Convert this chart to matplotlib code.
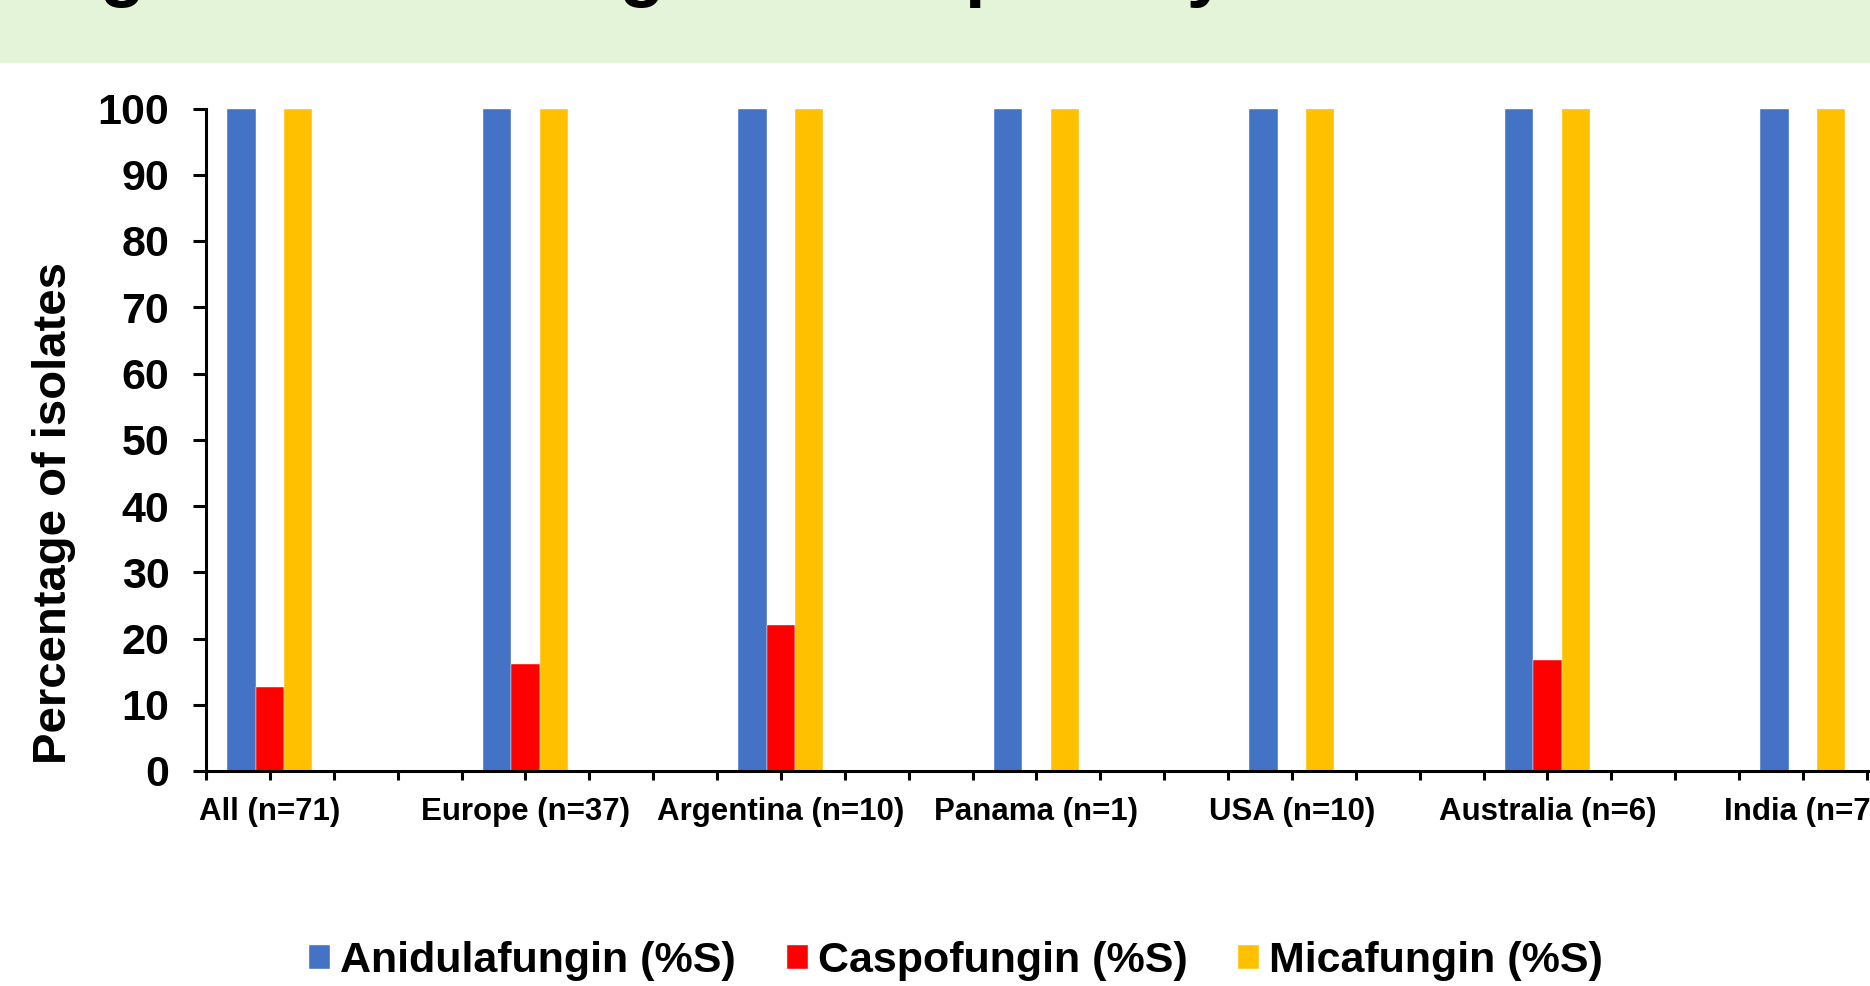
import matplotlib
matplotlib.use("Agg")
import matplotlib.pyplot as plt
from matplotlib.patches import Rectangle
import numpy as np

plt.rcParams['font.family'] = ['Liberation Sans', 'DejaVu Sans']
plt.rcParams['font.weight'] = 'bold'

categories = ["All (n=71)", "Europe (n=37)", "Argentina (n=10)", "Panama (n=1)",
              "USA (n=10)", "Australia (n=6)", "India (n=7)"]
anidulafungin = [100, 100, 100, 100, 100, 100, 100]
caspofungin = [12.7, 16.2, 22.0, 0, 0, 16.7, 0]
micafungin = [100, 100, 100, 100, 100, 100, 100]
series_names = ["Anidulafungin (%S)", "Caspofungin (%S)", "Micafungin (%S)"]
colors = ["#4472C4", "#FF0000", "#FFC000"]
title_text = "Figure 3. Antifungal Susceptibility"

W, H = 1870, 986
fig = plt.figure(figsize=(W / 100, H / 100), dpi=100)

# light green title band (top of slide, partially cropped)
fig.patches.append(Rectangle((0, 1 - 63 / H), 1, 63 / H, transform=fig.transFigure,
                             facecolor="#E3F4D9", edgecolor="none", zorder=0))
fig.text(34.5 / W, 1 + 7.5 / H, title_text, fontsize=53.4, fontweight='bold',
         ha='left', va='baseline', color='black')

ax_left = 206 / W
ax_bottom = (H - 771) / H
ax_height = (771 - 108.5) / H
ax_width = 7 * 255.5 / W
ax = fig.add_axes([ax_left, ax_bottom, ax_width, ax_height])

x = np.arange(len(categories))
bw = 0.111
for i, (vals, c, name) in enumerate(zip([anidulafungin, caspofungin, micafungin],
                                        colors, series_names)):
    ax.bar(x + (i - 1) * bw, vals, width=bw, color=c, label=name,
           edgecolor='white', linewidth=0.3, zorder=2)

ax.set_xlim(-0.25, len(categories) - 0.25)
ax.set_ylim(0, 100)
ax.set_yticks(np.arange(0, 101, 10))
ax.set_xticks(x)
ax.set_xticklabels(categories, fontsize=22.5, fontweight='bold')
ax.set_xticks(np.setdiff1d(np.arange(-0.25, len(categories), 0.25), x), minor=True)
for lab in ax.get_yticklabels():
    lab.set_fontsize(31)
    lab.set_fontweight('bold')

for s in ['top', 'right']:
    ax.spines[s].set_visible(False)
for s in ['left', 'bottom']:
    ax.spines[s].set_linewidth(2.2)
    ax.spines[s].set_color('black')

ax.tick_params(axis='y', direction='out', length=9.4, width=2.2, pad=17)
ax.tick_params(axis='x', which='both', direction='out', length=6.5, width=2.2, pad=12)

ax.set_ylabel("Percentage of isolates", fontsize=34, fontweight='bold')
ax.yaxis.set_label_coords((76 - 206) / (7 * 255.5), 0.389)

leg = fig.legend(loc='center', bbox_to_anchor=(956 / W, 25 / H), ncol=3,
                 frameon=False, prop={'size': 31, 'weight': 'bold'},
                 handlelength=0.49, handleheight=0.49, handletextpad=0.23,
                 columnspacing=1.18, borderaxespad=0)

fig.savefig("out.png", dpi=100)
